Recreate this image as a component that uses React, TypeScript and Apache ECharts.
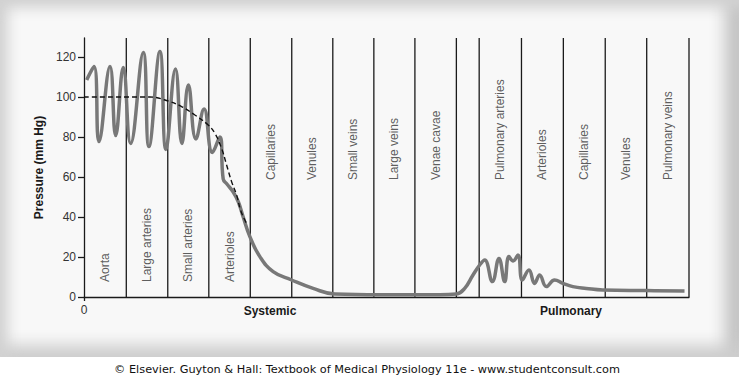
import React, { useEffect, useRef } from 'react';
import * as echarts from 'echarts';

// Pressure curve (x in vessel-segment units, y in mm Hg)
const pressureX = [0.065, 0.241, 0.361, 0.627, 0.764, 0.947, 1.125, 1.429, 1.566, 1.831, 1.976, 2.205, 2.361, 2.518, 2.699, 2.896, 3.096, 3.277, 3.357, 3.446, 3.598, 3.723, 3.839, 4.0, 4.241, 4.561, 5.005, 5.525, 6.048, 7.133, 8.578, 8.981, 9.181, 9.381, 9.542, 9.663, 9.848, 10.007, 10.145, 10.248, 10.349, 10.465, 10.571, 10.73, 10.867, 10.988, 11.149, 11.349, 11.549, 11.79, 12.113, 12.513, 13.559, 14.482];
const pressureY = [108.5, 115.2, 77.7, 115.2, 80.7, 114.7, 76.8, 122.3, 75.2, 122.7, 73.8, 114, 76.8, 106, 79, 94, 72.3, 80, 59, 56.5, 52.5, 47.5, 40, 30.2, 20.2, 12.7, 8.5, 4.3, 1.5, 1.1, 1.1, 1.5, 4.3, 11, 16, 18.5, 7.7, 19.3, 7.7, 20.2, 18, 21, 8.5, 13.5, 6.8, 11, 5.2, 8.5, 6.8, 5.2, 4.3, 3.5, 3.2, 3.0];

// Mean pressure (dashed)
const meanX = [0, 1.59, 2.031, 2.354, 2.675, 2.995, 3.157, 3.318, 3.439, 3.559, 3.68, 3.783, 3.92];
const meanY = [100, 100, 98, 95.2, 91, 86, 81.8, 74.3, 66, 57.7, 51, 43, 36.8];

// Segment boundaries
const boundaries = [1.02, 2.02, 3.01, 4.01, 5.01, 6.0, 6.99, 7.98, 8.98, 9.53, 10.55, 11.56, 12.57, 13.57, 14.59];
const systemicSegments = ['Aorta', 'Large arteries', 'Small arteries', 'Arterioles', 'Capillaries', 'Venules', 'Small veins', 'Large veins', 'Venae cavae'];
const pulmonarySegments = ['Pulmonary arteries', 'Arterioles', 'Capillaries', 'Venules', 'Pulmonary veins'];
const yTicks = [0, 20, 40, 60, 80, 100, 120];
const xTicks = [0];
const groupNames = ['Systemic', 'Pulmonary'];
const credit = '© Elsevier. Guyton & Hall: Textbook of Medical Physiology 11e - www.studentconsult.com';

const FONT = '"Liberation Sans", Arial, Helvetica, sans-serif';

export default function App() {
  const ref = useRef<HTMLDivElement>(null);
  useEffect(() => {
    if (!ref.current) return;
    const chart = echarts.init(ref.current, undefined, { renderer: 'svg' });

    const sysEdges = [0, ...boundaries.slice(0, 9)];
    const pulEdges = boundaries.slice(9);
    const labelData: any[] = [];
    systemicSegments.forEach((n, i) => {
      const mid = (sysEdges[i] + sysEdges[i + 1]) / 2;
      labelData.push({ value: [mid, i < 4 ? 7.5 : 58.5], name: n });
    });
    pulmonarySegments.forEach((n, i) => {
      const mid = (pulEdges[i] + pulEdges[i + 1]) / 2;
      labelData.push({ value: [mid, 58.5], name: n });
    });

    const yMax = 129.5;
    chart.setOption({
      animation: false,
      grid: { left: 84, right: 50, top: 38, bottom: 79 },
      xAxis: {
        type: 'value', min: 0, max: 14.59,
        axisLine: { show: true, lineStyle: { color: '#1a1a1a', width: 1.3 } },
        axisTick: { show: true, customValues: xTicks, length: 4, lineStyle: { color: '#1a1a1a', width: 1.3 } },
        axisLabel: { customValues: xTicks, color: '#333', fontSize: 12, fontFamily: FONT, margin: 7 },
        splitLine: { show: false },
      },
      yAxis: {
        type: 'value', min: 0, max: yMax, interval: 20,
        name: 'Pressure (mm Hg)', nameLocation: 'middle', nameGap: 36,
        nameTextStyle: { fontWeight: 'bold', fontSize: 12, color: '#1a1a1a', fontFamily: FONT },
        axisLine: { show: true, lineStyle: { color: '#1a1a1a', width: 1.3 } },
        axisTick: { show: true, customValues: yTicks, length: 6, lineStyle: { color: '#1a1a1a', width: 1.3 } },
        axisLabel: { customValues: yTicks, color: '#333', fontSize: 12, fontFamily: FONT, margin: 8 },
        splitLine: { show: false },
      },
      graphic: [
        { type: 'text', x: 270, y: 311, style: { text: groupNames[0], font: `bold 12px ${FONT}`, fill: '#1a1a1a', textAlign: 'center', textVerticalAlign: 'middle' } },
        { type: 'text', x: 571, y: 311, style: { text: groupNames[1], font: `bold 12px ${FONT}`, fill: '#1a1a1a', textAlign: 'center', textVerticalAlign: 'middle' } },
        { type: 'text', x: 367, y: 369, style: { text: credit, font: `11.3px "DejaVu Sans", Verdana, sans-serif`, fill: '#111', textAlign: 'center', textVerticalAlign: 'middle' } },
      ],
      series: [
        {
          type: 'custom', z: 1, silent: true,
          data: boundaries,
          renderItem: (params: any, api: any) => {
            const x = api.value(0);
            const p0 = api.coord([x, 0]);
            const p1 = api.coord([x, yMax]);
            return { type: 'line', shape: { x1: p0[0], y1: p0[1], x2: p1[0], y2: p1[1] }, style: { stroke: '#1a1a1a', lineWidth: 1.3 } };
          },
        },
        {
          type: 'scatter', z: 2, silent: true, symbolSize: 1,
          itemStyle: { color: 'transparent' },
          data: labelData,
          label: {
            show: true, position: 'inside', rotate: 90, align: 'left', verticalAlign: 'middle',
            formatter: (p: any) => p.name, color: '#333', fontSize: 12, fontFamily: FONT,
          },
        },
        {
          type: 'line', z: 3, smooth: 0.45, showSymbol: false, silent: true,
          data: pressureX.map((x, i) => [x, pressureY[i]]),
          lineStyle: { color: '#787878', width: 3.5 },
        },
        {
          type: 'line', z: 4, smooth: 0.4, showSymbol: false, silent: true,
          data: meanX.map((x, i) => [x, meanY[i]]),
          lineStyle: { color: '#111', width: 1.4, type: [5, 3] },
        },
      ],
    });
    return () => chart.dispose();
  }, []);

  return (
    <div style={{ position: 'fixed', left: 0, top: 0, width: 739, height: 376, background: '#ffffff', overflow: 'hidden' }}>
      <div style={{
        position: 'absolute', left: 0, top: 0, width: 739, height: 357, background: '#f8f8f8',
        boxShadow: 'inset 0 16px 14px -8px #d2d2d2, inset 16px 0 14px -8px #d2d2d2, inset 0 -20px 16px -8px #cdcdcd, inset -22px 0 16px -8px #c2c2c2',
      }} />
      <div ref={ref} style={{ position: 'absolute', left: 0, top: 0, width: 739, height: 376 }} />
    </div>
  );
}
